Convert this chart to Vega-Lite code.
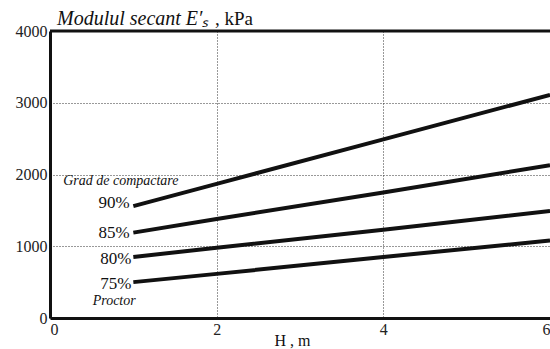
{
  "$schema": "https://vega.github.io/schema/vega-lite/v6.json",
  "autosize": {"type": "none"},
  "width": 500,
  "height": 287,
  "padding": {"left": 50, "top": 31, "right": 0, "bottom": 31},
  "background": "white",
  "view": {"stroke": null},
  "config": {"font": "Liberation Serif"},
  "datasets": {
    "curves": [
      {"H": 1, "E": 1560, "grad": "90%"},
      {"H": 2, "E": 1870, "grad": "90%"},
      {"H": 4, "E": 2490, "grad": "90%"},
      {"H": 6, "E": 3110, "grad": "90%"},
      {"H": 1, "E": 1190, "grad": "85%"},
      {"H": 2, "E": 1380, "grad": "85%"},
      {"H": 4, "E": 1750, "grad": "85%"},
      {"H": 6, "E": 2130, "grad": "85%"},
      {"H": 1, "E": 850, "grad": "80%"},
      {"H": 2, "E": 980, "grad": "80%"},
      {"H": 4, "E": 1230, "grad": "80%"},
      {"H": 6, "E": 1490, "grad": "80%"},
      {"H": 1, "E": 500, "grad": "75%"},
      {"H": 2, "E": 615, "grad": "75%"},
      {"H": 4, "E": 850, "grad": "75%"},
      {"H": 6, "E": 1080, "grad": "75%"}
    ],
    "labels": [
      {"H": 0.77, "E": 1600, "t": "90%"},
      {"H": 0.77, "E": 1190, "t": "85%"},
      {"H": 0.79, "E": 820, "t": "80%"},
      {"H": 0.79, "E": 470, "t": "75%"}
    ],
    "italics": [
      {"H": 0.85, "E": 1910, "t": "Grad de compactare"},
      {"H": 0.77, "E": 240, "t": "Proctor"}
    ],
    "titleIt": [{"H": 0, "E": 4000, "t": "Modulul secant E′ₛ"}],
    "titleRm": [{"H": 0, "E": 4000, "t": ", kPa"}],
    "top": [{"H": 0, "H2": 6, "E": 4000}]
  },
  "layer": [
    {
      "data": {"name": "top"},
      "mark": {"type": "rule", "color": "#111", "strokeWidth": 3},
      "encoding": {
        "x": {"field": "H", "type": "quantitative", "scale": {"domain": [0, 6]},
          "axis": {
            "values": [0, 2, 4, 6],
            "format": "d",
            "grid": true,
            "gridColor": "#333",
            "gridDash": [1, 2],
            "gridWidth": 1,
            "domainColor": "#111",
            "domainWidth": 3,
            "ticks": false,
            "labelFont": "Liberation Serif",
            "labelFontSize": 16,
            "labelColor": "#222",
            "labelPadding": 3,
            "title": "H , m",
            "titleFont": "Liberation Serif",
            "titleFontSize": 16,
            "titleFontWeight": "normal",
            "titleColor": "#111",
            "titleX": 242,
            "titleY": 27,
            "titleBaseline": "alphabetic"
          }
        },
        "x2": {"field": "H2"},
        "y": {"field": "E", "type": "quantitative", "scale": {"domain": [0, 4000]},
          "axis": {
            "values": [0, 1000, 2000, 3000, 4000],
            "format": "d",
            "grid": true,
            "gridColor": "#333",
            "gridDash": [1, 2],
            "gridWidth": 1,
            "domainColor": "#111",
            "domainWidth": 3,
            "ticks": false,
            "labelFont": "Liberation Serif",
            "labelFontSize": 16,
            "labelColor": "#222",
            "labelPadding": 3,
            "title": null
          }
        }
      }
    },
    {
      "data": {"name": "curves"},
      "mark": {"type": "line", "color": "#111", "strokeWidth": 4, "clip": true},
      "encoding": {
        "x": {"field": "H", "type": "quantitative"},
        "y": {"field": "E", "type": "quantitative"},
        "detail": {"field": "grad"}
      }
    },
    {
      "data": {"name": "labels"},
      "mark": {"type": "text", "font": "Liberation Serif", "fontSize": 17, "color": "#111"},
      "encoding": {
        "x": {"field": "H", "type": "quantitative"},
        "y": {"field": "E", "type": "quantitative"},
        "text": {"field": "t"}
      }
    },
    {
      "data": {"name": "italics"},
      "mark": {"type": "text", "font": "Liberation Serif", "fontStyle": "italic", "fontSize": 14, "color": "#111"},
      "encoding": {
        "x": {"field": "H", "type": "quantitative"},
        "y": {"field": "E", "type": "quantitative"},
        "text": {"field": "t"}
      }
    },
    {
      "data": {"name": "titleIt"},
      "mark": {"type": "text", "font": "Liberation Serif", "fontStyle": "italic", "fontSize": 20, "color": "#111", "align": "left", "baseline": "alphabetic", "dx": 7, "dy": -6, "clip": false},
      "encoding": {
        "x": {"field": "H", "type": "quantitative"},
        "y": {"field": "E", "type": "quantitative"},
        "text": {"field": "t"}
      }
    },
    {
      "data": {"name": "titleRm"},
      "mark": {"type": "text", "font": "Liberation Serif", "fontSize": 19, "color": "#111", "align": "left", "baseline": "alphabetic", "dx": 165, "dy": -6, "clip": false},
      "encoding": {
        "x": {"field": "H", "type": "quantitative"},
        "y": {"field": "E", "type": "quantitative"},
        "text": {"field": "t"}
      }
    }
  ]
}
